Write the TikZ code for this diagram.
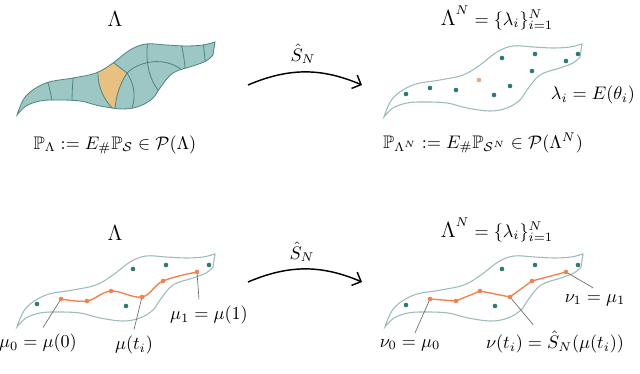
\documentclass[tikz,border=0pt]{standalone}
\usepackage{amsmath,amssymb}
\usetikzlibrary{arrows.meta}

\definecolor{regionfill}{HTML}{9CC7C4}
\definecolor{regionline}{HTML}{4F8583}
\definecolor{patchfill}{HTML}{E8C080}
\definecolor{outlinecol}{HTML}{9BBDBC}
\definecolor{dotteal}{HTML}{2B7A76}
\definecolor{pathorange}{HTML}{F2814F}
\definecolor{lightorange}{HTML}{F5A57E}

\tikzset{
  outline/.style={outlinecol, line width=0.6pt},
  gridline/.style={regionline, line width=0.45pt},
  opath/.style={pathorange, line width=0.75pt},
  leader/.style={black!60, line width=0.35pt},
  mapto/.style={-{Straight Barb[length=4pt,width=8pt]}, line width=0.8pt},
}

% the region Lambda, drawn from its left tip
\newcommand{\lambdaregion}{plot[smooth,tension=0.6] coordinates {(0,0) (9,-19) (29,-32) (56,-37) (79,-42) (96,-52) (113,-65) (129,-71) (149,-70) (169,-69) (186,-70) (198,-73)} -- plot[smooth,tension=0.6] coordinates {(196,-60) (189,-54) (176,-49) (156,-42) (143,-27) (136,-17) (123,-9) (106,-6) (83,-9) (63,-14) (39,-15) (23,-14) (9,-9) (0,0)} -- cycle}

\begin{document}
\begin{tikzpicture}[x=0.55pt, y=-0.55pt]
\useasboundingbox (0,0) rectangle (640,374);

% top row
\node (lamtop) at (115,19) {\large$\Lambda$};
\begin{scope}[shift={(17,115)}]
\fill[regionfill] \lambdaregion;
\begin{scope}
\clip \lambdaregion;
\fill[patchfill] (81,-62) -- (84,-62) -- (110,-42) .. controls (102,-30) and (98,-15) .. (98,-4) .. controls (87,-15) and (80,-27) .. (81,-47) -- cycle;
\draw[gridline] (29,-39) .. controls (32,-30) and (34,-20) .. (36,-9);
\draw[gridline] (57,-43) .. controls (55,-30) and (55,-18) .. (55,-5);
\draw[gridline] (81,-62) -- (81,-47) .. controls (80,-27) and (87,-15) .. (98,-4);
\draw[gridline] (84,-62) -- (110,-42) .. controls (102,-30) and (98,-15) .. (98,-4);
\draw[gridline] (110,-42) .. controls (123,-55) and (153,-60) .. (170,-40);
\draw[gridline] (110,-42) .. controls (118,-30) and (120,-15) .. (112,0);
\draw[gridline] (131,-76) .. controls (128,-55) and (131,-35) .. (145,-20);
\draw[gridline] (164,-72) .. controls (167,-59) and (168,-50) .. (169,-38);
\draw[gridline] (186,-75) .. controls (187,-65) and (188,-55) .. (189,-48);
\end{scope}
\draw[gridline] \lambdaregion;
\end{scope}
\node (probtop) at (115,145) {$\mathbb{P}_\Lambda := E_\#\mathbb{P}_\mathcal{S} \in \mathcal{P}(\Lambda)$};

\coordinate (maptopA) at (248,85);
\coordinate (maptopB) at (362,85);
\draw[mapto] (maptopA) to[bend left=23] (maptopB);
\node (shattop) at (303,54) {$\hat{S}_N$};

\node (lamNtop) at (497,18) {$\mbox{\large$\Lambda$}^N = \{\lambda_i\}_{i=1}^N$};
\draw[outline, shift={(384,117)}] \lambdaregion;
\fill[dotteal] (406,94) circle (2.3);
\fill[dotteal] (430,88) circle (2.3);
\fill[dotteal] (456,90) circle (2.3);
\fill[dotteal] (494,95) circle (2.3);
\fill[dotteal] (510,86) circle (2.3);
\fill[dotteal] (502,58) circle (2.3);
\fill[dotteal] (535,54) circle (2.3);
\fill[dotteal] (532,71) circle (2.3);
\fill[dotteal] (566,61) circle (2.3);
\fill[dotteal] (578,54) circle (2.3);
\fill[lightorange] (479,80) circle (2.3);
\node (lamdef) at (593,95) {$\lambda_i = E(\theta_i)$};
\node (probNtop) at (483,143) {$\mathbb{P}_{\Lambda^N} := E_\#\mathbb{P}_{\mathcal{S}^N} \in \mathcal{P}(\Lambda^N)$};

% bottom row
\node (lambot) at (115,233) {\large$\Lambda$};
\draw[outline, shift={(17,327)}] \lambdaregion;
\fill[dotteal] (37,304) circle (2.3);
\fill[dotteal] (126,306) circle (2.3);
\fill[dotteal] (133,269) circle (2.3);
\fill[dotteal] (166,265) circle (2.3);
\fill[dotteal] (209,265) circle (2.3);
\coordinate (m0) at (61,299);
\coordinate (m1) at (87,301);
\coordinate (m2) at (111,291);
\coordinate (m3) at (142,297);
\coordinate (m4) at (163,281);
\coordinate (m5) at (197,272);
\node (mu0) at (38,343) {$\mu_0 = \mu(0)$};
\node (mut) at (134,345) {$\mu(t_i)$};
\node (mu1) at (209,315) {$\mu_1 = \mu(1)$};
\draw[leader] (m0) -- ([xshift=2.75pt]mu0.north);
\draw[leader] (m3) -- (mut.north);
\draw[leader] (m5) -- ([xshift=-5.5pt]mu1.north);
\draw[opath] plot[smooth,tension=0.6] coordinates {(m0) (m1) (m2) (m3) (m4) (m5)};
\fill[pathorange] (m0) circle (2.3);
\fill[pathorange] (m1) circle (2.3);
\fill[pathorange] (m2) circle (2.3);
\fill[pathorange] (m3) circle (2.3);
\fill[pathorange] (m4) circle (2.3);
\fill[pathorange] (m5) circle (2.3);

\coordinate (mapbotA) at (248,282);
\coordinate (mapbotB) at (362,282);
\draw[mapto] (mapbotA) to[bend left=23] (mapbotB);
\node (shatbot) at (302,252) {$\hat{S}_N$};

\node (lamNbot) at (497,230) {$\mbox{\large$\Lambda$}^N = \{\lambda_i\}_{i=1}^N$};
\draw[outline, shift={(385,327)}] \lambdaregion;
\fill[dotteal] (406,305) circle (2.3);
\fill[dotteal] (495,306) circle (2.3);
\fill[dotteal] (502,269) circle (2.3);
\fill[dotteal] (535,265) circle (2.3);
\fill[dotteal] (578,265) circle (2.3);
\coordinate (n0) at (430,299);
\coordinate (n1) at (456,301);
\coordinate (n2) at (480,291);
\coordinate (n3) at (510,297);
\coordinate (n4) at (532,281);
\coordinate (n5) at (566,272);
\node (nu0) at (410,345) {$\nu_0 = \mu_0$};
\node (nut) at (555,342) {$\nu(t_i) = \hat{S}_N(\mu(t_i))$};
\node (nu1) at (595,300) {$\nu_1 = \mu_1$};
\draw[leader] (n0) -- ([xshift=2.75pt]nu0.north);
\draw[leader] (n3) -- ([xshift=-12pt]nut.north);
\draw[leader] (n5) -- ([xshift=-1pt]nu1.north);
\draw[opath] (n0) -- (n1) -- (n2) -- (n3) -- (n4) -- (n5);
\fill[pathorange] (n0) circle (2.3);
\fill[pathorange] (n1) circle (2.3);
\fill[pathorange] (n2) circle (2.3);
\fill[pathorange] (n3) circle (2.3);
\fill[pathorange] (n4) circle (2.3);
\fill[pathorange] (n5) circle (2.3);
\end{tikzpicture}
\end{document}
